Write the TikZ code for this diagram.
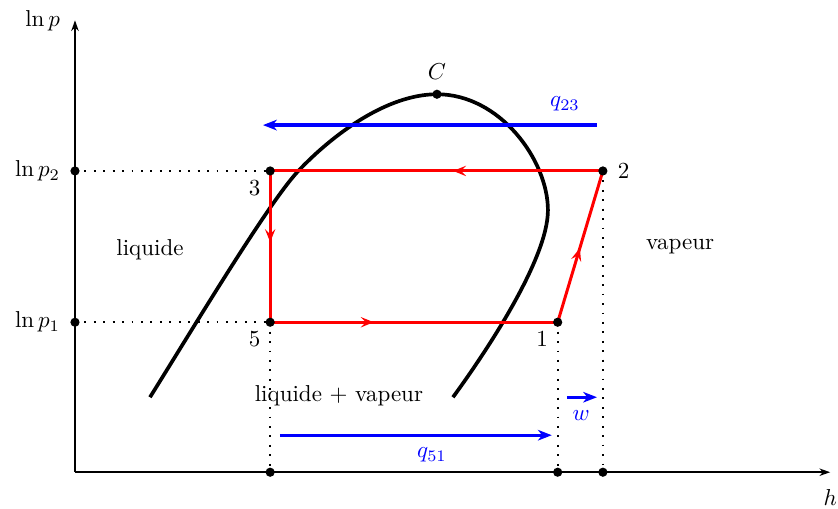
\documentclass[tikz,border=0pt]{standalone}
\usepackage{amsmath}
\usepackage{xcolor}
\usepackage{tikz}
\usetikzlibrary{arrows.meta,decorations.markings,positioning}
\definecolor{cyclered}{RGB}{255,0,0}
\definecolor{heatblue}{RGB}{0,0,255}
\tikzset{
  axisline/.style={line width=0.8pt,-{Stealth[length=4.6pt,width=3.2pt,inset=1.4pt]}},
  domeline/.style={line width=1.6pt},
  cyclepath/.style={cyclered,line width=1.3pt},
  midarrow/.style={postaction={decorate},decoration={markings,
    mark=at position #1 with {\arrow{Stealth[length=5.6pt,width=4.5pt,inset=2.2pt]}}}},
  heatarrow/.style={heatblue,line width=1.4pt,-{Stealth[length=6pt,width=4.6pt,inset=1.8pt]}},
  guide/.style={line width=0.8pt,dash pattern=on 0.8pt off 3.3pt},
  heatlabel/.style={heatblue},
}
\newcommand{\statedot}[1]{\fill (#1) circle (2pt);}

\begin{document}
\begin{tikzpicture}
  \useasboundingbox (-1.145,-0.55) rectangle (11.65,7.21);
  \coordinate (O) at (0,0);
  \coordinate (ytop) at (0,6.90);
  \coordinate (xend) at (11.53,0);
  \coordinate (lp2) at (0,4.60);
  \coordinate (lp1) at (0,2.29);
  \coordinate (p3) at (2.98,4.60);
  \coordinate (p2) at (8.06,4.60);
  \coordinate (p5) at (2.98,2.29);
  \coordinate (p1) at (7.37,2.29);
  \coordinate (h3) at (2.98,0);
  \coordinate (h1) at (7.37,0);
  \coordinate (h2) at (8.06,0);
  \coordinate (C) at (5.527,5.771);
  \coordinate (domeL) at (1.145,1.145);
  \coordinate (domeR) at (5.771,1.145);
  \coordinate (q23a) at (7.97,5.30);
  \coordinate (q23b) at (2.87,5.30);
  \coordinate (q51a) at (3.13,0.565);
  \coordinate (q51b) at (7.28,0.565);
  \coordinate (wa) at (7.51,1.145);
  \coordinate (wb) at (7.97,1.145);

  \draw[axisline] (O) -- (ytop);
  \draw[axisline] (O) -- (xend);
  \node[left=3pt] (lnp) at (ytop) {$\ln p$};
  \node[below=4pt] (hlab) at (xend) {$h$};

  \draw[guide] (lp2) -- (p3);
  \draw[guide] (lp1) -- (p5);
  \draw[guide] (p5) -- (h3);
  \draw[guide] (p1) -- (h1);
  \draw[guide] (p2) -- (h2);

  \draw[domeline] (domeL) .. controls (1.756,2.122) and (2.947,4.107) .. (3.405,4.595)
    .. controls (3.939,5.160) and (4.763,5.771) .. (C)
    .. controls (6.489,5.771) and (7.221,4.763) .. (7.221,4.000)
    .. controls (7.221,3.237) and (6.229,1.771) .. (domeR);

  \draw[cyclepath,midarrow=0.45] (p2) -- (p3);
  \draw[cyclepath,midarrow=0.47] (p3) -- (p5);
  \draw[cyclepath,midarrow=0.36] (p5) -- (p1);
  \draw[cyclepath,midarrow=0.49] (p1) -- (p2);

  \draw[heatarrow] (q23a) -- (q23b);
  \draw[heatarrow] (q51a) -- (q51b);
  \draw[heatarrow] (wa) -- (wb);

  \foreach \p in {p3,p2,p5,p1,h3,h1,h2,lp2,lp1,C} {\statedot{\p}}
  \node[left=3pt] (llp2) at (lp2) {$\ln p_2$};
  \node[left=3pt] (llp1) at (lp1) {$\ln p_1$};
  \node[below left=1pt] (l3) at (p3) {$3$};
  \node[right=3pt] (l2) at (p2) {$2$};
  \node[below left=1pt] (l5) at (p5) {$5$};
  \node[below left=1pt] (l1) at (p1) {$1$};
  \node[above=3pt] (lC) at (C) {$C$};
  \node[heatlabel] (lq23) at (7.48,5.62) {$q_{23}$};
  \node[heatlabel] (lq51) at (5.45,0.26) {$q_{51}$};
  \node[heatlabel] (lw) at (7.73,0.87) {$w$};
  \node (liq) at (1.145,3.40) {liquide};
  \node (vap) at (9.24,3.45) {vapeur};
  \node (mix) at (4.03,1.16) {liquide + vapeur};
\end{tikzpicture}
\end{document}
